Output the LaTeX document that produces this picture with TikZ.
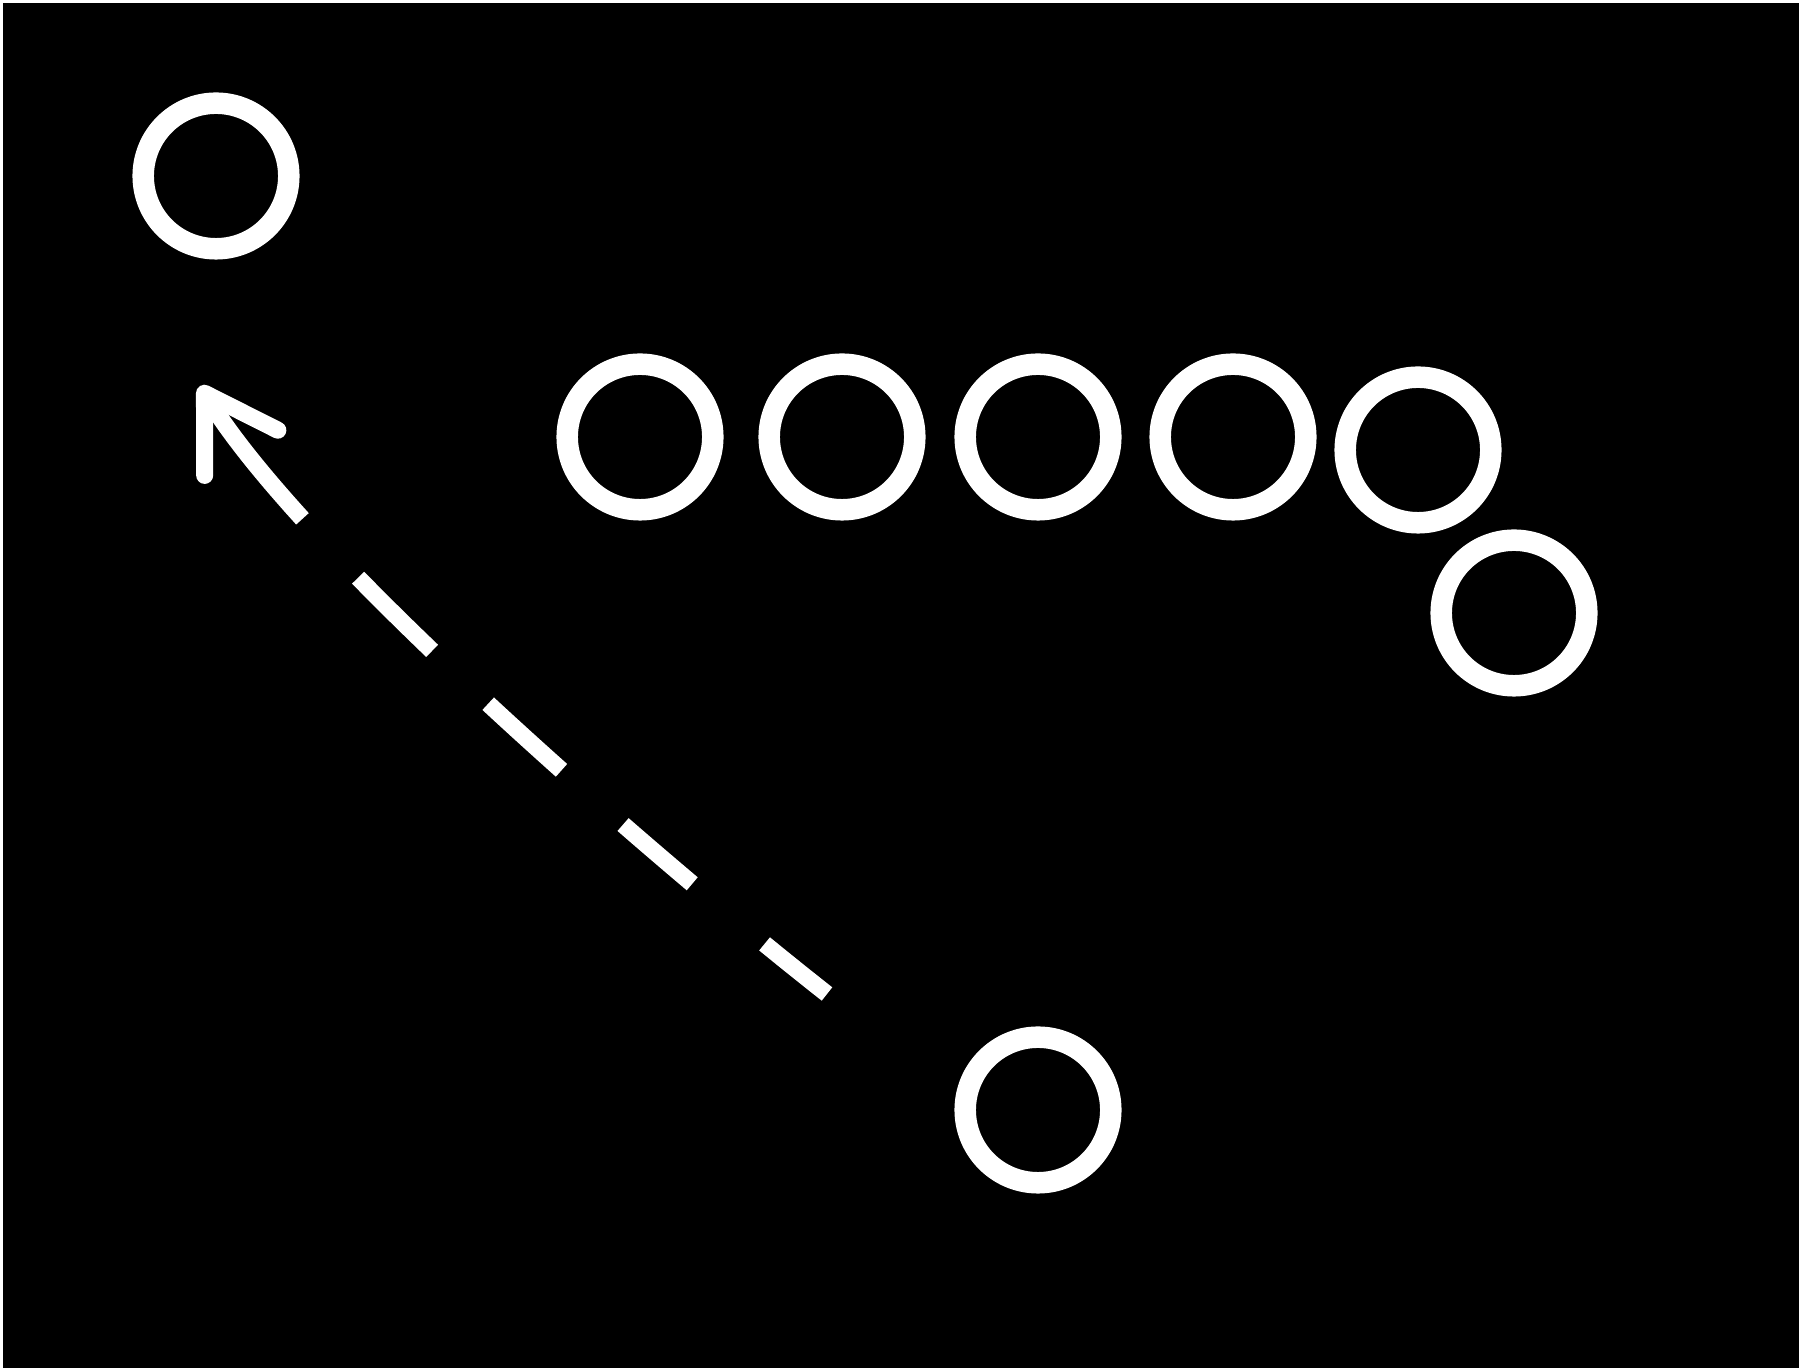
\documentclass[tikz,border=0pt]{standalone}
\usetikzlibrary{arrows.meta,calc}
\begin{document}
\begin{tikzpicture}[
    x=0.01cm, y=-0.01cm,
    player/.style={draw=white, circle, line width=0.215cm, inner sep=0pt,
        minimum size=1.455cm},
    route/.style={draw=white, line width=0.17cm,
        dash pattern=on 0.80cm off 0.94cm on 0.91cm off 0.82cm
            on 0.99cm off 0.77cm on 1.04cm off 0.81cm on 3cm off 0cm,
        -{Straight Barb[round, length=0.70cm, width=0.86cm]}}
]
% canvas
\fill[white] (0,0) rectangle (1802,1371);
\fill[black] (3,3) rectangle (1799,1368);

% lone player top left
\node[player] (target) at (216,176) {};

% line of players
\node[player] (line1) at (640,437) {};
\node[player] (line2) at (842,437) {};
\node[player] (line3) at (1038,437) {};
\node[player] (line4) at (1233,437) {};
\node[player] (line5) at (1418,450) {};
\node[player] (line6) at (1514,613) {};

% player below
\node[player] (back) at (1038,1110) {};

% dashed route
\coordinate (start) at (827,994);
\coordinate (tip) at (200,386);
\draw[route] (start) .. controls ($(start)+(-173,-136)$)
    and ($(tip)+(105,170)$) .. (tip);
\end{tikzpicture}
\end{document}
